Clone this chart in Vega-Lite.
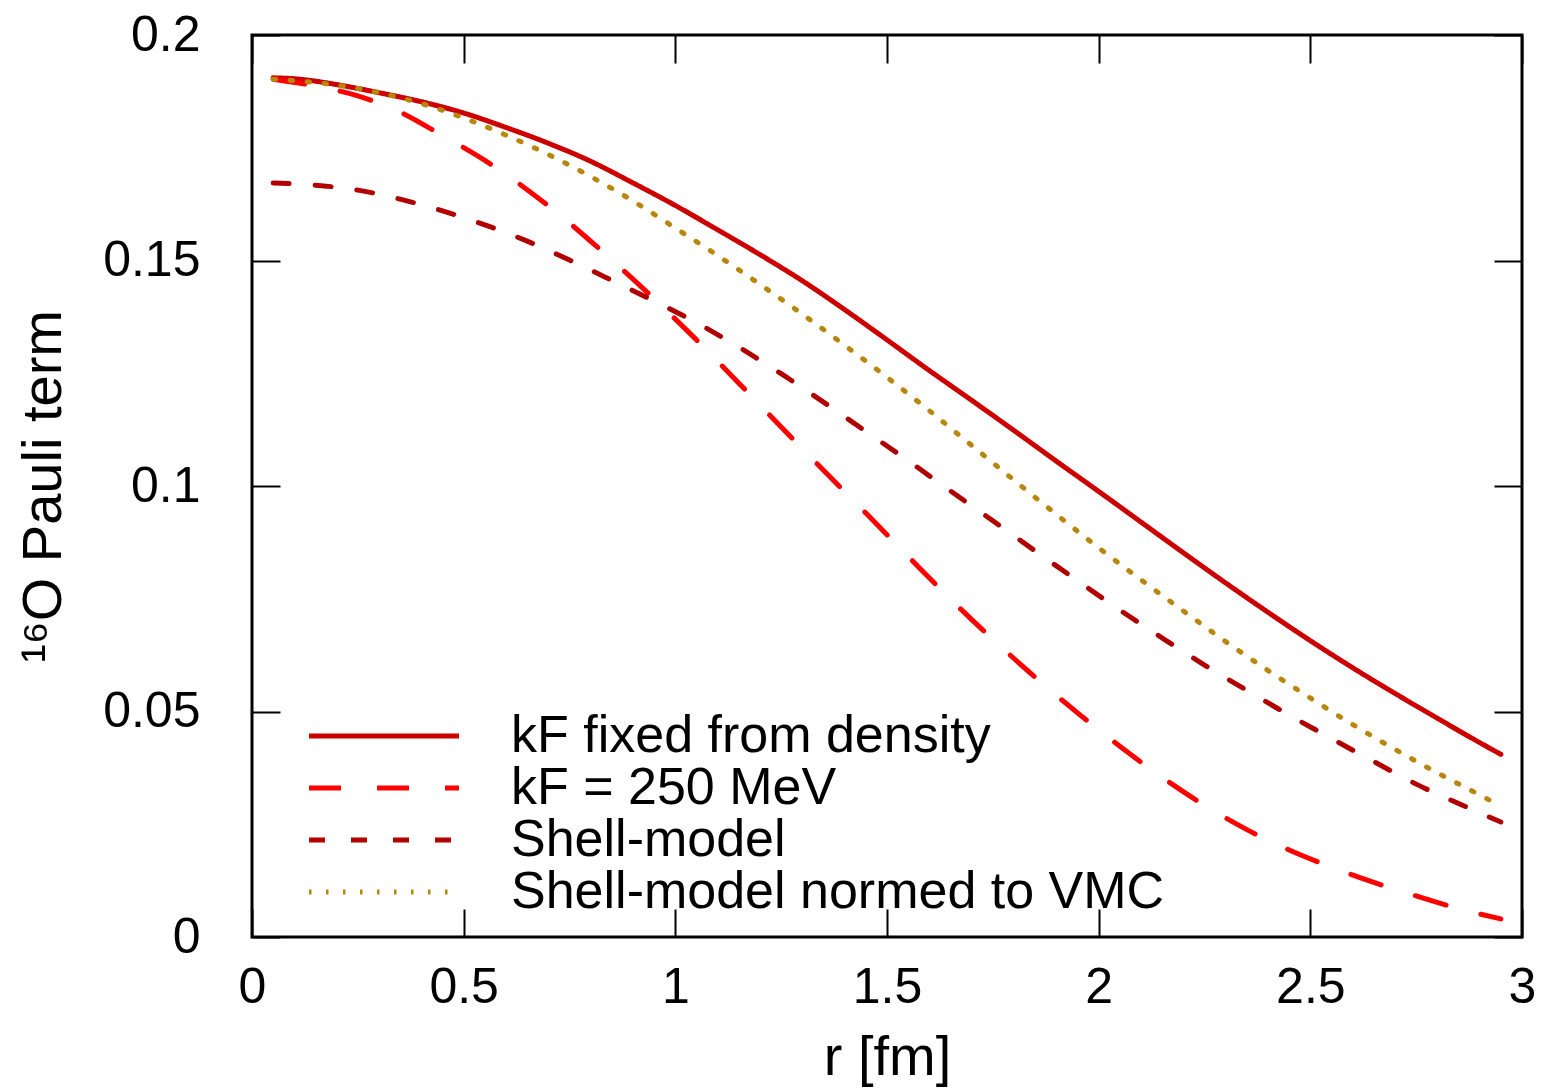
{
  "$schema": "https://vega.github.io/schema/vega-lite/v6.json",
  "width": 1270,
  "height": 902,
  "autosize": {"type": "none"},
  "padding": {"left": 252, "top": 35, "right": 21, "bottom": 151},
  "background": "white",
  "config": {
    "view": {"stroke": "black", "strokeWidth": 3},
    "font": "Liberation Sans",
    "axis": {
      "domain": false,
      "grid": false,
      "tickColor": "black",
      "tickWidth": 2,
      "tickSize": -28,
      "labelFont": "Liberation Sans",
      "labelFontSize": 50,
      "labelColor": "black",
      "titleFont": "Liberation Sans",
      "titleFontSize": 56,
      "titleFontWeight": "normal",
      "titleColor": "black"
    },
    "legend": {
      "labelFont": "Liberation Sans",
      "labelFontSize": 52,
      "labelColor": "black",
      "labelLimit": 1000
    }
  },
  "data": {
    "values": [
      {"s": "kF fixed from density", "r": 0.05, "v": 0.1905},
      {"s": "kF fixed from density", "r": 0.1, "v": 0.1903},
      {"s": "kF fixed from density", "r": 0.2, "v": 0.189},
      {"s": "kF fixed from density", "r": 0.3, "v": 0.1872},
      {"s": "kF fixed from density", "r": 0.4, "v": 0.1852},
      {"s": "kF fixed from density", "r": 0.5, "v": 0.1827},
      {"s": "kF fixed from density", "r": 0.6, "v": 0.1795},
      {"s": "kF fixed from density", "r": 0.7, "v": 0.176},
      {"s": "kF fixed from density", "r": 0.8, "v": 0.172},
      {"s": "kF fixed from density", "r": 0.9, "v": 0.1672},
      {"s": "kF fixed from density", "r": 1.0, "v": 0.1622},
      {"s": "kF fixed from density", "r": 1.1, "v": 0.1568},
      {"s": "kF fixed from density", "r": 1.2, "v": 0.1513},
      {"s": "kF fixed from density", "r": 1.3, "v": 0.1455},
      {"s": "kF fixed from density", "r": 1.4, "v": 0.1391},
      {"s": "kF fixed from density", "r": 1.5, "v": 0.1324},
      {"s": "kF fixed from density", "r": 1.6, "v": 0.1256},
      {"s": "kF fixed from density", "r": 1.7, "v": 0.119},
      {"s": "kF fixed from density", "r": 1.8, "v": 0.1123},
      {"s": "kF fixed from density", "r": 1.9, "v": 0.1055},
      {"s": "kF fixed from density", "r": 2.0, "v": 0.0988},
      {"s": "kF fixed from density", "r": 2.1, "v": 0.092},
      {"s": "kF fixed from density", "r": 2.2, "v": 0.0852},
      {"s": "kF fixed from density", "r": 2.3, "v": 0.0785},
      {"s": "kF fixed from density", "r": 2.4, "v": 0.072},
      {"s": "kF fixed from density", "r": 2.5, "v": 0.0657},
      {"s": "kF fixed from density", "r": 2.6, "v": 0.0597},
      {"s": "kF fixed from density", "r": 2.7, "v": 0.054},
      {"s": "kF fixed from density", "r": 2.8, "v": 0.0485},
      {"s": "kF fixed from density", "r": 2.9, "v": 0.0431},
      {"s": "kF fixed from density", "r": 2.95, "v": 0.0405},

      {"s": "kF = 250 MeV", "r": 0.05, "v": 0.1902},
      {"s": "kF = 250 MeV", "r": 0.15, "v": 0.1887},
      {"s": "kF = 250 MeV", "r": 0.25, "v": 0.1865},
      {"s": "kF = 250 MeV", "r": 0.35, "v": 0.1829},
      {"s": "kF = 250 MeV", "r": 0.45, "v": 0.1777},
      {"s": "kF = 250 MeV", "r": 0.55, "v": 0.1722},
      {"s": "kF = 250 MeV", "r": 0.65, "v": 0.1657},
      {"s": "kF = 250 MeV", "r": 0.75, "v": 0.1583},
      {"s": "kF = 250 MeV", "r": 0.85, "v": 0.1501},
      {"s": "kF = 250 MeV", "r": 0.95, "v": 0.1415},
      {"s": "kF = 250 MeV", "r": 1.05, "v": 0.1324},
      {"s": "kF = 250 MeV", "r": 1.15, "v": 0.1228},
      {"s": "kF = 250 MeV", "r": 1.25, "v": 0.1131},
      {"s": "kF = 250 MeV", "r": 1.35, "v": 0.1035},
      {"s": "kF = 250 MeV", "r": 1.45, "v": 0.094},
      {"s": "kF = 250 MeV", "r": 1.55, "v": 0.0844},
      {"s": "kF = 250 MeV", "r": 1.65, "v": 0.0749},
      {"s": "kF = 250 MeV", "r": 1.75, "v": 0.066},
      {"s": "kF = 250 MeV", "r": 1.85, "v": 0.0576},
      {"s": "kF = 250 MeV", "r": 1.95, "v": 0.0497},
      {"s": "kF = 250 MeV", "r": 2.05, "v": 0.0423},
      {"s": "kF = 250 MeV", "r": 2.15, "v": 0.0354},
      {"s": "kF = 250 MeV", "r": 2.25, "v": 0.0292},
      {"s": "kF = 250 MeV", "r": 2.35, "v": 0.0238},
      {"s": "kF = 250 MeV", "r": 2.45, "v": 0.0193},
      {"s": "kF = 250 MeV", "r": 2.55, "v": 0.0155},
      {"s": "kF = 250 MeV", "r": 2.65, "v": 0.0121},
      {"s": "kF = 250 MeV", "r": 2.75, "v": 0.0091},
      {"s": "kF = 250 MeV", "r": 2.85, "v": 0.0063},
      {"s": "kF = 250 MeV", "r": 2.95, "v": 0.004},

      {"s": "Shell-model", "r": 0.05, "v": 0.1672},
      {"s": "Shell-model", "r": 0.15, "v": 0.1667},
      {"s": "Shell-model", "r": 0.25, "v": 0.1656},
      {"s": "Shell-model", "r": 0.35, "v": 0.1636},
      {"s": "Shell-model", "r": 0.45, "v": 0.161},
      {"s": "Shell-model", "r": 0.55, "v": 0.1579},
      {"s": "Shell-model", "r": 0.65, "v": 0.1543},
      {"s": "Shell-model", "r": 0.75, "v": 0.1501},
      {"s": "Shell-model", "r": 0.85, "v": 0.1456},
      {"s": "Shell-model", "r": 0.95, "v": 0.141},
      {"s": "Shell-model", "r": 1.05, "v": 0.1362},
      {"s": "Shell-model", "r": 1.15, "v": 0.1308},
      {"s": "Shell-model", "r": 1.25, "v": 0.1249},
      {"s": "Shell-model", "r": 1.35, "v": 0.1186},
      {"s": "Shell-model", "r": 1.45, "v": 0.1121},
      {"s": "Shell-model", "r": 1.55, "v": 0.1056},
      {"s": "Shell-model", "r": 1.65, "v": 0.0989},
      {"s": "Shell-model", "r": 1.75, "v": 0.0923},
      {"s": "Shell-model", "r": 1.85, "v": 0.0856},
      {"s": "Shell-model", "r": 1.95, "v": 0.079},
      {"s": "Shell-model", "r": 2.05, "v": 0.0725},
      {"s": "Shell-model", "r": 2.15, "v": 0.0663},
      {"s": "Shell-model", "r": 2.25, "v": 0.0603},
      {"s": "Shell-model", "r": 2.35, "v": 0.0547},
      {"s": "Shell-model", "r": 2.45, "v": 0.0492},
      {"s": "Shell-model", "r": 2.55, "v": 0.044},
      {"s": "Shell-model", "r": 2.65, "v": 0.0389},
      {"s": "Shell-model", "r": 2.75, "v": 0.0339},
      {"s": "Shell-model", "r": 2.85, "v": 0.0296},
      {"s": "Shell-model", "r": 2.95, "v": 0.0255},

      {"s": "Shell-model normed to VMC", "r": 0.05, "v": 0.1902},
      {"s": "Shell-model normed to VMC", "r": 0.2, "v": 0.1889},
      {"s": "Shell-model normed to VMC", "r": 0.3, "v": 0.1872},
      {"s": "Shell-model normed to VMC", "r": 0.4, "v": 0.1848},
      {"s": "Shell-model normed to VMC", "r": 0.5, "v": 0.1816},
      {"s": "Shell-model normed to VMC", "r": 0.6, "v": 0.1778},
      {"s": "Shell-model normed to VMC", "r": 0.7, "v": 0.1735},
      {"s": "Shell-model normed to VMC", "r": 0.8, "v": 0.1686},
      {"s": "Shell-model normed to VMC", "r": 0.9, "v": 0.1632},
      {"s": "Shell-model normed to VMC", "r": 1.0, "v": 0.1572},
      {"s": "Shell-model normed to VMC", "r": 1.1, "v": 0.1511},
      {"s": "Shell-model normed to VMC", "r": 1.2, "v": 0.1447},
      {"s": "Shell-model normed to VMC", "r": 1.3, "v": 0.1381},
      {"s": "Shell-model normed to VMC", "r": 1.4, "v": 0.1312},
      {"s": "Shell-model normed to VMC", "r": 1.5, "v": 0.1241},
      {"s": "Shell-model normed to VMC", "r": 1.6, "v": 0.1167},
      {"s": "Shell-model normed to VMC", "r": 1.7, "v": 0.109},
      {"s": "Shell-model normed to VMC", "r": 1.8, "v": 0.1013},
      {"s": "Shell-model normed to VMC", "r": 1.9, "v": 0.0937},
      {"s": "Shell-model normed to VMC", "r": 2.0, "v": 0.0863},
      {"s": "Shell-model normed to VMC", "r": 2.1, "v": 0.0792},
      {"s": "Shell-model normed to VMC", "r": 2.2, "v": 0.0723},
      {"s": "Shell-model normed to VMC", "r": 2.3, "v": 0.0655},
      {"s": "Shell-model normed to VMC", "r": 2.4, "v": 0.0591},
      {"s": "Shell-model normed to VMC", "r": 2.5, "v": 0.053},
      {"s": "Shell-model normed to VMC", "r": 2.6, "v": 0.0471},
      {"s": "Shell-model normed to VMC", "r": 2.7, "v": 0.0416},
      {"s": "Shell-model normed to VMC", "r": 2.8, "v": 0.0364},
      {"s": "Shell-model normed to VMC", "r": 2.9, "v": 0.0315},
      {"s": "Shell-model normed to VMC", "r": 2.95, "v": 0.029}
    ]
  },
  "layer": [
    {
      "mark": {"type": "line", "strokeWidth": 5, "strokeCap": "round", "strokeJoin": "round", "interpolate": "monotone", "clip": true},
      "encoding": {
        "x": {
          "field": "r", "type": "quantitative",
          "scale": {"domain": [0, 3], "nice": false},
          "axis": {"orient": "bottom", "values": [0, 0.5, 1, 1.5, 2, 2.5, 3], "format": "~g", "labelPadding": 53, "title": "r [fm]", "titlePadding": 18, "labelFlush": false}
        },
        "y": {
          "field": "v", "type": "quantitative",
          "scale": {"domain": [0, 0.2], "nice": false},
          "axis": {"orient": "left", "values": [0, 0.05, 0.1, 0.15, 0.2], "format": "~g", "labelPadding": 80, "title": "¹⁶O Pauli term", "titlePadding": 30, "labelFlush": false}
        },
        "color": {
          "field": "s", "type": "nominal",
          "scale": {
            "domain": ["kF fixed from density", "kF = 250 MeV", "Shell-model", "Shell-model normed to VMC"],
            "range": ["#cc0000", "#ff0000", "#b00000", "#b8860b"]
          },
          "legend": {
            "title": null,
            "orient": "none",
            "legendX": 106,
            "legendY": 675,
            "symbolType": "M-5,0H5",
            "symbolSize": 900,
            "symbolStrokeWidth": 5,
            "labelOffset": 101,
            "rowPadding": -6,
            "padding": 0
          }
        },
        "strokeDash": {
          "field": "s", "type": "nominal",
          "scale": {
            "domain": ["kF fixed from density", "kF = 250 MeV", "Shell-model", "Shell-model normed to VMC"],
            "range": [[1, 0], [32, 36], [16, 26], [2.5, 14.5]]
          },
          "legend": null
        }
      }
    },
    {
      "mark": {"type": "line", "opacity": 0},
      "encoding": {
        "x": {
          "field": "r", "type": "quantitative",
          "scale": {"domain": [0, 3], "nice": false},
          "axis": {"orient": "top", "values": [0, 0.5, 1, 1.5, 2, 2.5, 3], "labels": false, "title": null}
        },
        "y": {
          "field": "v", "type": "quantitative",
          "scale": {"domain": [0, 0.2], "nice": false},
          "axis": {"orient": "right", "values": [0, 0.05, 0.1, 0.15, 0.2], "labels": false, "title": null}
        },
        "detail": {"field": "s", "type": "nominal"}
      }
    }
  ],
  "resolve": {"axis": {"x": "independent", "y": "independent"}}
}
